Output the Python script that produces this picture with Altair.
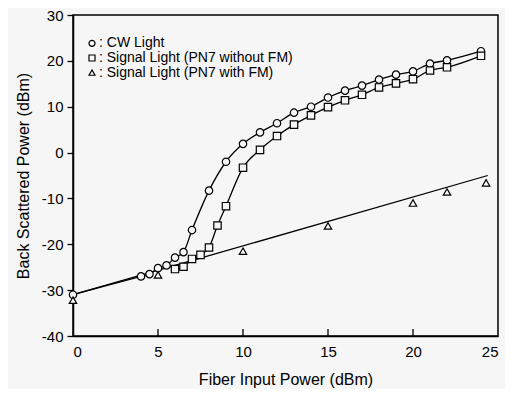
import altair as alt
import pandas as pd

# ---- data ----
cw_x = [0, 4, 4.5, 5, 5.5, 6, 6.5, 7, 8, 9, 10, 11, 12, 13, 14, 15, 16, 17, 18, 19, 20, 21, 22, 24]
cw_y = [-31, -27, -26.5, -25.2, -24.6, -22.9, -21.7, -16.9, -8.3, -2.0, 1.9, 4.4, 6.4, 8.7, 10.0,
        12.0, 13.5, 14.6, 15.9, 17.0, 17.7, 19.4, 20.1, 22.1]

sq_x = [6, 6.5, 7, 7.5, 8, 8.5, 9, 10, 11, 12, 13, 14, 15, 16, 17, 18, 19, 20, 21, 22, 24]
sq_y = [-25.4, -24.9, -23.2, -22.3, -20.7, -15.9, -11.7, -3.3, 0.6, 3.6, 6.1, 8.1, 9.9, 11.4,
        12.6, 14.2, 15.1, 16.0, 17.9, 18.6, 21.1]

tri_x = [0, 5, 10, 15, 20, 22, 24.3]
tri_y = [-32.2, -26.7, -21.5, -16.0, -11.0, -8.6, -6.6]

# straight fitted line (end points)
fit_x = [0, 24.4]
fit_y = [-31, -5.0]

series_names = ["CW Light", "Signal Light (PN7 without FM)", "Signal Light (PN7 with FM)"]
shapes = ["circle", "square", "triangle-up"]

x_ticks = [0, 5, 10, 15, 20, 25]
inner_ticks = [5, 10, 15, 20]
y_ticks = [-40, -30, -20, -10, 0, 10, 20, 30]

BG = "#f6f6f6"
W, H = 425, 321
FONT = "Liberation Sans"

pts = pd.concat([
    pd.DataFrame({"x": cw_x, "y": cw_y, "series": series_names[0]}),
    pd.DataFrame({"x": sq_x, "y": sq_y, "series": series_names[1]}),
    pd.DataFrame({"x": tri_x, "y": tri_y, "series": series_names[2]}),
])
curves_df = pts[pts["series"] != series_names[2]]
fit_df = pd.DataFrame({"x": fit_x, "y": fit_y})
tick_df = pd.DataFrame({"x": inner_ticks})
legend_df = pd.DataFrame({"series": series_names})

xs = alt.Scale(domain=[0, 25], nice=False)
ys = alt.Scale(domain=[-40, 30], nice=False)
shape_scale = alt.Scale(domain=series_names, range=shapes)

x_enc = alt.X("x:Q", scale=xs, axis=alt.Axis(values=x_ticks, title="Fiber Input Power (dBm)",
                                             tickSize=0, labelPadding=8, titlePadding=12, grid=False))
y_enc = alt.Y("y:Q", scale=ys, axis=alt.Axis(values=y_ticks, title="Back Scattered Power (dBm)",
                                             labelExpr="replace(datum.label, '\u2212', '-')",
                                             tickSize=6, labelPadding=4, titlePadding=10, grid=False))

curves = alt.Chart(curves_df).mark_line(interpolate="monotone", color="black", strokeWidth=1.3).encode(
    x=x_enc, y=y_enc, detail="series:N")

fit = alt.Chart(fit_df).mark_line(color="black", strokeWidth=1.3).encode(x=x_enc, y=y_enc)

ticks = alt.Chart(tick_df).mark_rule(color="black", strokeWidth=1.3).encode(
    x=alt.X("x:Q", scale=xs), y=alt.value(H), y2=alt.value(H - 7))

points = alt.Chart(pts).mark_point(filled=True, fill=BG, stroke="black",
                                   strokeWidth=1.2, size=55, opacity=1).encode(
    x=x_enc, y=y_enc,
    shape=alt.Shape("series:N", scale=shape_scale, legend=None))

main = alt.layer(curves, fit, ticks, points)

# legend drawn inside the plot area (top-left), as in the original
leg_y = alt.Y("series:N", scale=alt.Scale(type="point", domain=series_names, range=[21, 65]),
              axis=None)
leg_sym = alt.Chart(legend_df).mark_point(filled=True, fill=BG, stroke="black", strokeWidth=1.2,
                                          size=36, opacity=1).encode(
    x=alt.value(19), y=leg_y, shape=alt.Shape("series:N", scale=shape_scale, legend=None))
leg_txt = alt.Chart(legend_df).transform_calculate(label="': ' + datum.series").mark_text(
    align="left", baseline="middle", fontSize=14, font=FONT, color="black").encode(
    x=alt.value(26), y=leg_y, text="label:N")
legend = alt.layer(leg_sym, leg_txt)

chart = alt.layer(main, legend).resolve_scale(y="independent").properties(
    width=W, height=H, background=BG,
    padding={"left": 65, "top": 7, "right": 7, "bottom": 53},
    autosize=alt.AutoSizeParams(type="none"),
).configure_view(stroke="black", strokeWidth=1.5, fill=BG).configure_axis(
    labelFont=FONT, titleFont=FONT, labelFontSize=15, titleFontSize=16,
    labelColor="black", titleColor="black", titleFontWeight="normal",
    domainColor="black", domainWidth=1.5, tickColor="black", tickWidth=1.3,
)

chart.save("out.html", embed_options={"renderer": "svg", "actions": False})
